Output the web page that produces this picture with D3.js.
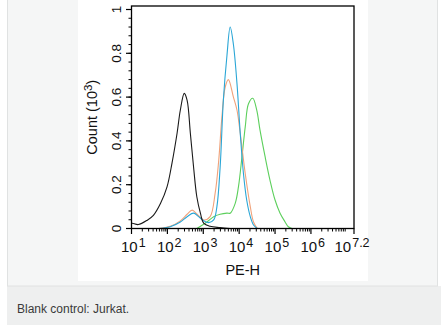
<!DOCTYPE html>
<html><head><meta charset="utf-8">
<script src="https://cdn.jsdelivr.net/npm/d3@7"></script>
<style>
html,body{margin:0;padding:0;background:#fff;}
svg{display:block;}
</style></head>
<body>
<script>
// ---- data (x as log10 of PE-H, y as Count in 10^3) ----
const blackLog  = [1.0, 1.02, 1.19, 1.44, 1.61, 1.81, 1.99, 2.13, 2.27, 2.36, 2.47, 2.55, 2.64, 2.73, 2.82, 2.92, 3.01, 3.19, 3.47, 3.75];
const blackCnt  = [0.022,0.024,0.018,0.038,0.06, 0.115,0.19, 0.30, 0.435,0.54, 0.617,0.585,0.435,0.28, 0.145,0.07, 0.025,0.01, 0.004,0.0];
const orangeLog = [1.75, 2.08, 2.36, 2.55, 2.69, 2.83, 3.01, 3.19, 3.33, 3.43, 3.52, 3.61, 3.70, 3.84, 3.94, 4.03, 4.17, 4.31, 4.40, 4.51];
const orangeCnt = [0.0,  0.01, 0.035,0.065,0.084,0.065,0.039,0.054,0.16, 0.31, 0.51, 0.645,0.68, 0.60, 0.54, 0.435,0.25, 0.10, 0.03, 0.0];
const blueLog   = [1.75, 2.08, 2.36, 2.55, 2.73, 2.87, 3.01, 3.15, 3.29, 3.38, 3.47, 3.56, 3.66, 3.75, 3.84, 3.94, 4.03, 4.12, 4.21, 4.31, 4.40, 4.50];
const blueCnt   = [0.0,  0.008,0.03, 0.054,0.07, 0.054,0.036,0.027,0.039,0.10, 0.28, 0.587,0.79, 0.92, 0.84, 0.66, 0.435,0.25, 0.13, 0.054,0.016,0.0];
const greenLog  = [2.82, 3.10, 3.29, 3.47, 3.66, 3.75, 3.89, 3.98, 4.08, 4.17, 4.26, 4.38, 4.49, 4.58, 4.72, 4.86, 5.00, 5.14, 5.28, 5.37, 5.47];
const greenCnt  = [0.0,  0.03, 0.054,0.065,0.07, 0.07, 0.115,0.19, 0.33, 0.465,0.57, 0.595,0.54, 0.45, 0.33, 0.22, 0.13, 0.07, 0.03, 0.008,0.0];
const xTickExp  = ["1","2","3","4","5","6","7.2"];
const yTicks    = [0, 0.2, 0.4, 0.6, 0.8, 1];
const yTickLabels = ["0","0.2","0.4","0.6","0.8","1"];
const caption = "Blank control: Jurkat.";

const W = 441, H = 325;
const svg = d3.select("body").append("svg").attr("width", W).attr("height", H);

// page panels
svg.append("rect").attr("x",7).attr("y",286).attr("width",W-7).attr("height",H-286).attr("fill","#eeefef");
svg.append("rect").attr("x",7.5).attr("y",-1).attr("width",430).attr("height",287).attr("fill","#f5f6f6").attr("stroke","#e0e2e2");
svg.append("rect").attr("x",78).attr("y",0).attr("width",290).attr("height",281).attr("fill","#ffffff");
svg.append("text").attr("x",17).attr("y",313).attr("font-family","'Liberation Sans', Arial, sans-serif")
  .attr("font-size",12).attr("fill","#3a3a3a").text(caption);

// plot area
const L = 131.5, R = 354, T = 6, B = 228.5;
const x = d3.scaleLog().domain([10, Math.pow(10,7.2)]).range([L, R]);
const y = d3.scaleLinear().domain([0, 1]).range([B, 9.5]);

const g = svg.append("g");
const font = "'Liberation Sans', Arial, sans-serif";

// curves
const line = d3.line().x(d => x(Math.pow(10, d[0]))).y(d => y(d[1])).curve(d3.curveCatmullRom.alpha(0.5));
const series = [
  {lx: greenLog,  c: greenCnt,  col: "#5ccf5c"},
  {lx: orangeLog, c: orangeCnt, col: "#f0a27a"},
  {lx: blueLog,   c: blueCnt,   col: "#2aa6d6"},
  {lx: blackLog,  c: blackCnt,  col: "#1a1a1a"}
];
series.forEach(s => {
  g.append("path").datum(d3.zip(s.lx, s.c)).attr("d", line)
   .attr("fill","none").attr("stroke", s.col).attr("stroke-width",1.1);
});

// box
g.append("rect").attr("x",L).attr("y",T).attr("width",R-L).attr("height",B-T)
  .attr("fill","none").attr("stroke","#000").attr("stroke-width",1.3);

// y ticks
const yMinor = d3.range(0, 1.0001, 0.04);
g.selectAll(".ymin").data(yMinor).join("line")
  .attr("x1",L).attr("x2",L-3).attr("y1",d=>y(d)).attr("y2",d=>y(d)).attr("stroke","#000").attr("stroke-width",1);
g.selectAll(".ymaj").data(yTicks).join("line")
  .attr("x1",L).attr("x2",L-5.5).attr("y1",d=>y(d)).attr("y2",d=>y(d)).attr("stroke","#000").attr("stroke-width",1.2);
g.selectAll(".ylab").data(yTicks).join("text")
  .attr("transform",(d)=>`translate(${L-11},${y(d)}) rotate(-90)`)
  .attr("text-anchor","middle").attr("font-family",font).attr("font-size",13.5).attr("fill","#111")
  .text((d,i)=>yTickLabels[i]);

// x ticks
const xMinor = [];
for (let e = 1; e <= 7; e++) for (let m = 2; m <= 9; m++) { const v = m*Math.pow(10,e); if (v <= Math.pow(10,7.2)) xMinor.push(v); }
g.selectAll(".xmin").data(xMinor).join("line")
  .attr("x1",d=>x(d)).attr("x2",d=>x(d)).attr("y1",B).attr("y2",B+3).attr("stroke","#000").attr("stroke-width",1);
const xMajor = xTickExp.map(e => Math.pow(10, +e));
g.selectAll(".xmaj").data(xMajor).join("line")
  .attr("x1",d=>x(d)).attr("x2",d=>x(d)).attr("y1",B).attr("y2",B+5.5).attr("stroke","#000").attr("stroke-width",1.2);
const xl = g.selectAll(".xlab").data(xTickExp).join("text")
  .attr("x",(d,i)=> x(Math.pow(10,+d)) + (i === xTickExp.length-1 ? -19.5 : -10.5))
  .attr("y",252).attr("font-family",font).attr("font-size",15).attr("fill","#111");
xl.append("tspan").text("10");
xl.append("tspan").attr("dx",1).attr("dy",-5).attr("font-size",12.5).text(d=>d);

// axis titles
g.append("text").attr("x",(L+R)/2).attr("y",275).attr("text-anchor","middle")
  .attr("font-family",font).attr("font-size",14.5).attr("fill","#111").text("PE-H");
const yt = g.append("text").attr("transform",`translate(97,${(T+B)/2}) rotate(-90)`).attr("text-anchor","middle")
  .attr("font-family",font).attr("font-size",14.5).attr("fill","#111");
yt.append("tspan").text("Count (10");
yt.append("tspan").attr("dy",-5).attr("font-size",11.5).text("3");
yt.append("tspan").attr("dy",5).text(")");
</script>
</body></html>
